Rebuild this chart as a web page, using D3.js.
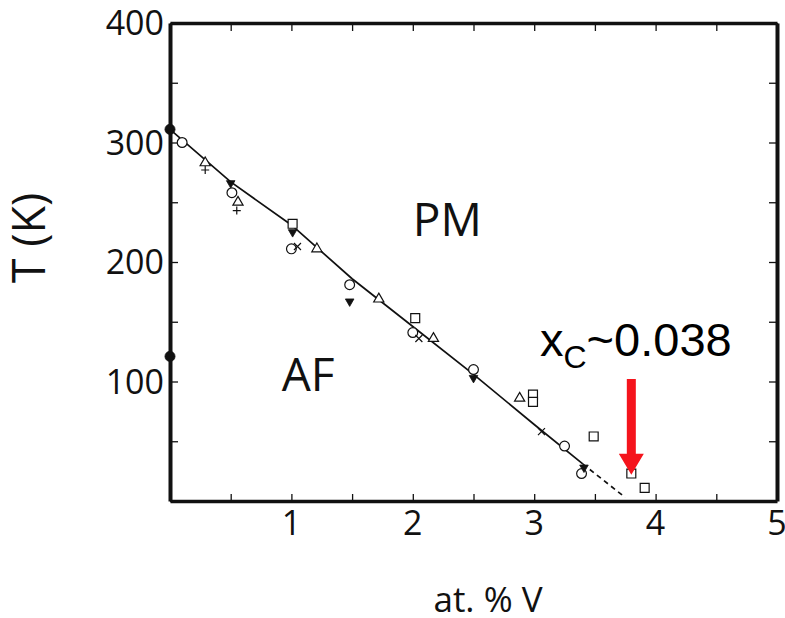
<!DOCTYPE html>
<html><head><meta charset="utf-8">
<script src="https://cdn.jsdelivr.net/npm/d3@7"></script>
<style>body{margin:0;background:#fff}svg{display:block}</style>
</head><body>
<svg id="c" width="785" height="618"></svg>
<script>
// ---- data ----
const xTicksMajor = [1, 2, 3, 4, 5];
const xTicksMinor = [0, 0.5, 1, 1.5, 2, 2.5, 3, 3.5, 4, 4.5, 5];
const yTicksMajor = [100, 200, 300, 400];
const yTicksMinor = [0, 50, 100, 150, 200, 250, 300, 350, 400];

const boundarySolid = [[0, 311], [0.5, 267], [1, 231], [1.5, 186], [2, 146], [2.5, 106], [3, 64], [3.4, 31]];
const boundaryDashed = [[3.4, 31], [3.75, 3]];

const circlesOpen = [[0.1, 300], [0.51, 258], [1.0, 211], [1.48, 181], [2.0, 141], [2.5, 110], [3.25, 46], [3.39, 23]];
const trianglesOpen = [[0.29, 283], [0.56, 250], [1.21, 211], [1.72, 169], [2.17, 136], [2.88, 86]];
const squaresOpen = [[1.01, 232], [2.02, 153], [2.99, 89], [2.99, 83], [3.49, 54], [3.80, 23], [3.91, 11]];
const crossesX = [[1.05, 213], [2.05, 136], [3.06, 58]];
const plusses = [[0.29, 277], [0.55, 243]];
const trianglesDownFilled = [[0.5, 266], [1.01, 225], [1.48, 167], [2.5, 103], [3.41, 28]];
const circlesFilled = [[0, 311], [0, 121]];

const regionLabels = [{text: "PM", x: 2.0, t: 222}, {text: "AF", x: 0.92, t: 92}];
const critical = {x: 3.8, tFrom: 102, tTo: 22, label: "0.038"};

// ---- layout ----
const svg = d3.select("#c");
const x = d3.scaleLinear().domain([0, 5]).range([170, 777]);
const y = d3.scaleLinear().domain([0, 400]).range([501, 23]);
const ink = "#111";

// axes (inward ticks)
function styleAxis(g, w) {
  g.select(".domain").attr("stroke", ink).attr("stroke-width", w);
  g.selectAll(".tick line").attr("stroke", ink).attr("stroke-width", 1.3);
}
svg.append("g").attr("transform", `translate(0,${y(0)})`)
  .call(d3.axisBottom(x).tickValues(xTicksMinor).tickSizeInner(-7).tickSizeOuter(0).tickFormat(""))
  .call(g => styleAxis(g, 3.5));
svg.append("g").attr("transform", `translate(0,${y(400)})`)
  .call(d3.axisTop(x).tickValues(xTicksMinor).tickSizeInner(-8).tickSizeOuter(0).tickFormat(""))
  .call(g => styleAxis(g, 3.5));
svg.append("g").attr("transform", `translate(${x(0)},0)`)
  .call(d3.axisLeft(y).tickValues(yTicksMinor).tickSizeInner(-8).tickSizeOuter(0).tickFormat(""))
  .call(g => styleAxis(g, 4));
svg.append("g").attr("transform", `translate(${x(5)},0)`)
  .call(d3.axisRight(y).tickValues(yTicksMinor).tickSizeInner(-8).tickSizeOuter(0).tickFormat(""))
  .call(g => styleAxis(g, 4));

// tick labels
const tickFont = "'Open Sans', sans-serif";
svg.append("g").selectAll("text").data(xTicksMajor).join("text")
  .attr("x", d => x(d)).attr("y", 535).attr("text-anchor", "middle")
  .attr("font-family", tickFont).attr("font-size", 34).attr("fill", ink).text(d => d);
svg.append("g").selectAll("text").data(yTicksMajor).join("text")
  .attr("x", 164).attr("y", d => y(d)).attr("dy", "0.36em").attr("text-anchor", "end")
  .attr("font-family", tickFont).attr("font-size", 34).attr("fill", ink).text(d => d);

// axis titles
svg.append("text").attr("transform", "translate(45,238) rotate(-90)").attr("text-anchor", "middle")
  .attr("font-family", tickFont).attr("font-size", 45).attr("fill", ink).text("T (K)");
svg.append("text").attr("x", 488).attr("y", 612).attr("text-anchor", "middle")
  .attr("font-family", tickFont).attr("font-size", 35).attr("fill", ink).text("at. % V");

// region labels
svg.append("g").selectAll("text").data(regionLabels).join("text")
  .attr("x", d => x(d.x)).attr("y", d => y(d.t)).attr("font-family", tickFont)
  .attr("font-size", 46).attr("fill", ink).text(d => d.text);

// boundary line
const line = d3.line().x(d => x(d[0])).y(d => y(d[1]));
svg.append("path").attr("d", line(boundarySolid)).attr("fill", "none").attr("stroke", ink).attr("stroke-width", 1.7);
svg.append("path").attr("d", line(boundaryDashed)).attr("fill", "none").attr("stroke", ink).attr("stroke-width", 1.7).attr("stroke-dasharray", "5,4");

// markers
const mk = svg.append("g");
function sym(data, type, size, filled, rot) {
  mk.selectAll(null).data(data).join("path")
    .attr("transform", d => `translate(${x(d[0])},${y(d[1])})${rot ? " rotate(180)" : ""}`)
    .attr("d", d3.symbol().type(type).size(size)())
    .attr("fill", filled ? ink : "#fff").attr("stroke", ink).attr("stroke-width", filled ? 0.8 : 1.2);
}
sym(circlesOpen, d3.symbolCircle, 75, false);
sym(trianglesOpen, d3.symbolTriangle, 45, false);
sym(squaresOpen, d3.symbolSquare, 80, false);
sym(trianglesDownFilled, d3.symbolTriangle, 32, true, true);
sym(circlesFilled, d3.symbolCircle, 80, true);
mk.selectAll(null).data(crossesX).join("path")
  .attr("transform", d => `translate(${x(d[0])},${y(d[1])})`)
  .attr("d", "M-3.5,-3.5L3.5,3.5M-3.5,3.5L3.5,-3.5").attr("stroke", ink).attr("stroke-width", 1.2);
mk.selectAll(null).data(plusses).join("path")
  .attr("transform", d => `translate(${x(d[0])},${y(d[1])})`)
  .attr("d", "M-4,0L4,0M0,-4L0,4").attr("stroke", ink).attr("stroke-width", 1.2);

// critical concentration label and arrow
const red = "#f5141c";
const lab = svg.append("text").attr("x", 540).attr("y", 356)
  .attr("font-family", "'Liberation Sans', Arial, sans-serif").attr("font-size", 47).attr("fill", "#000");
lab.append("tspan").text("x");
lab.append("tspan").attr("font-size", 32).attr("dy", 12).text("C");
lab.append("tspan").attr("dy", -12).text("~" + critical.label);

const ax = x(critical.x), y0 = y(critical.tFrom), y1 = y(critical.tTo);
const headH = 21, shaftW = 9, headW = 25;
svg.append("path").attr("fill", red).attr("d",
  `M${ax - shaftW / 2},${y0}L${ax + shaftW / 2},${y0}L${ax + shaftW / 2},${y1 - headH}L${ax + headW / 2},${y1 - headH}` +
  `L${ax},${y1}L${ax - headW / 2},${y1 - headH}L${ax - shaftW / 2},${y1 - headH}Z`);
</script>
</body></html>
